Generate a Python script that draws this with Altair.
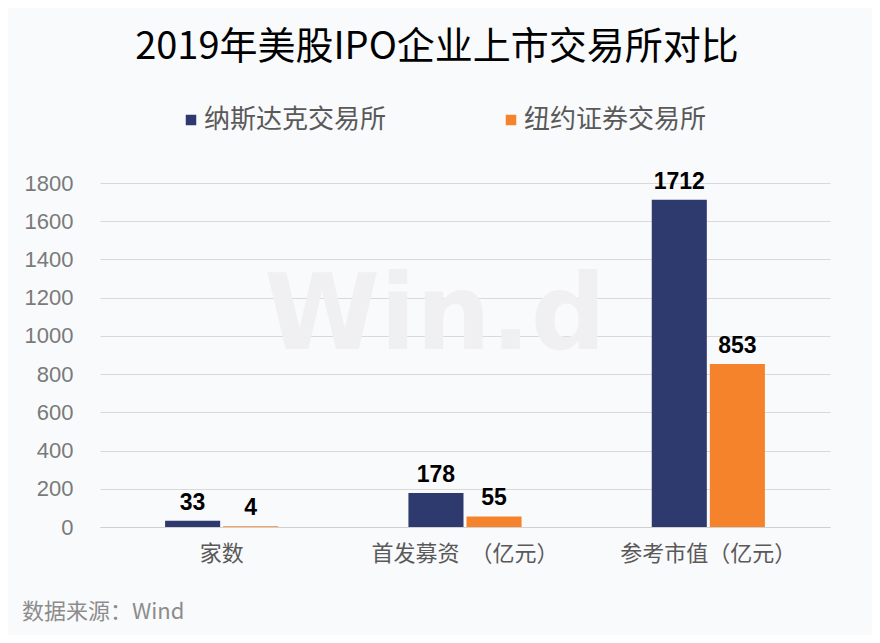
import altair as alt
import pandas as pd

categories = ["家数", "首发募资　（亿元）", "参考市值（亿元）"]
series = ["纳斯达克交易所", "纽约证券交易所"]
nasdaq = [33, 178, 1712]
nyse = [4, 55, 853]
y_ticks = [0, 200, 400, 600, 800, 1000, 1200, 1400, 1600, 1800]

rows = []
for c, a, b in zip(categories, nasdaq, nyse):
    rows.append({"cat": c, "ex": series[0], "v": a})
    rows.append({"cat": c, "ex": series[1], "v": b})
df = pd.DataFrame(rows)

colors = ["#2e3a6e", "#f5832b"]

x = alt.X("cat:N", sort=categories, title=None,
          scale=alt.Scale(paddingInner=0.535, paddingOuter=0.2675),
          axis=alt.Axis(labelAngle=0, ticks=False, domainColor="#d0d0d0",
                        labelPadding=16, labelFontSize=22, labelColor="#595959",
                        labelFont="Noto Sans CJK SC", labelLimit=0))
xo = alt.XOffset("ex:N", sort=series, scale=alt.Scale(paddingInner=0.052, paddingOuter=0))
y = alt.Y("v:Q", title=None,
          scale=alt.Scale(domain=[0, 1800], nice=False),
          axis=alt.Axis(values=y_ticks, format="d", grid=True, gridColor="#d9d9d9",
                        domain=False, ticks=False, labelPadding=27, labelFontSize=22,
                        labelColor="#7a7a7a", labelFont="Liberation Sans"))

base = alt.Chart(df)

bars = base.mark_bar().encode(
    x=x, xOffset=xo, y=y,
    color=alt.Color("ex:N", sort=series,
                    scale=alt.Scale(domain=series, range=colors),
                    legend=alt.Legend(title=None, orient="none", direction="horizontal",
                                      legendX=78, legendY=-76, symbolType="square",
                                      symbolSize=110, symbolStrokeWidth=0,
                                      labelFontSize=26, labelColor="#595959",
                                      labelFont="Noto Sans CJK SC", labelOffset=0,
                                      labelLimit=0, columnPadding=111, padding=0))
)

labels = base.mark_text(baseline="bottom", dy=-6, fontSize=23, fontWeight="bold",
                        font="Liberation Sans", color="#000000").encode(
    x=x, xOffset=xo, y=y, text="v:Q"
)

wm_df = pd.DataFrame({"t": ["Win.d"]})
watermark = alt.Chart(wm_df).mark_text(
    fontSize=105, fontWeight="bold", font="DejaVu Sans", color="#f0f0f2",
    align="center", baseline="middle"
).encode(x=alt.value(335), y=alt.value(134), text="t:N")

src_df = pd.DataFrame({"t": ["数据来源：Wind"]})
source = alt.Chart(src_df).mark_text(
    fontSize=22, font="Noto Sans CJK SC", color="#8c8c8c",
    align="left", baseline="middle"
).encode(x=alt.value(-78), y=alt.value(429), text="t:N")

chart = alt.layer(watermark, bars, labels, source).properties(
    width=730, height=344,
    title=alt.Title("2019年美股IPO企业上市交易所对比", fontSize=38, fontWeight="normal",
                    font="Noto Sans CJK SC", color="#000000", anchor="middle",
                    dx=-28, offset=40),
    background="#f9fafc",
    padding={"left": 92, "top": 175, "right": 42, "bottom": 108},
    autosize=alt.AutoSizeParams(type="none"),
).configure_view(stroke=None)

chart.save("out.html", embed_options={"renderer": "svg", "actions": False})
